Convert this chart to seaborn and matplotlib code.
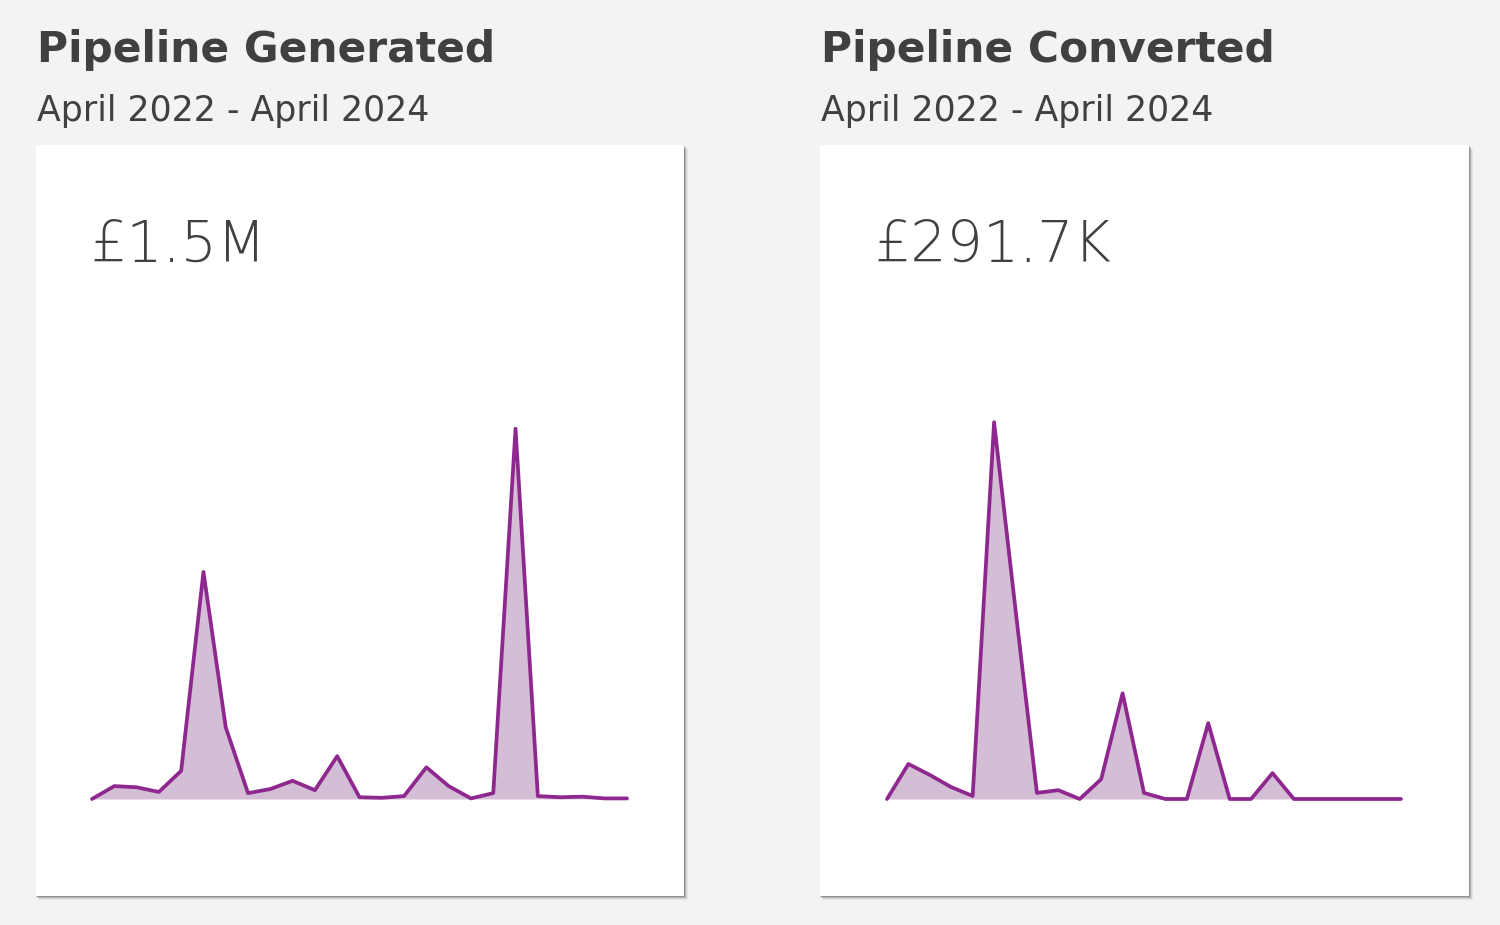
import matplotlib
matplotlib.use("Agg")
import matplotlib.pyplot as plt
import matplotlib.patches as mpatches
import numpy as np
import pandas as pd
import seaborn as sns

# Monthly pipeline values, April 2022 - April 2024 (in £k)
months = pd.date_range("2022-04-01", "2024-04-01", freq="MS")
generated_k = [0, 22, 20, 12, 48, 387, 122, 10, 17, 31, 15, 73, 3,
               2, 5, 54, 22, 1, 10, 631, 5, 3, 4, 1, 1]
converted_k = [0, 11.5, 7.9, 3.9, 1.0, 123.7, 62.2, 2.0, 2.9, 0, 6.5, 34.7, 2.0,
               0, 0, 24.9, 0, 0, 8.5, 0, 0, 0, 0, 0, 0]

titles = ["Pipeline Generated", "Pipeline Converted"]
subtitle = "April 2022 - April 2024"
totals = ["£1.5M", "£291.7K"]

df = pd.DataFrame({"month": np.arange(len(months)),
                   "generated": generated_k,
                   "converted": converted_k})

sns.set_theme(style="white")
plt.rcParams["font.family"] = ["DejaVu Sans"]

W, H = 1500, 925
fig = plt.figure(figsize=(15, 9.25), dpi=100)
fig.patch.set_facecolor("#f3f3f3")

line_col = "#8e288f"
fill_col = "#d4bed5"
text_col = "#404040"


def px(x0, y0, x1, y1):
    # pixel box (top-left origin) -> figure fraction rect
    return [x0 / W, 1 - y1 / H, (x1 - x0) / W, (y1 - y0) / H]


cards = [(36, 145, 684, 896), (820, 145, 1469, 896)]
plots = [(92, 400, 627, 799), (887, 400, 1401, 799)]
ytops = [680, 131]
cols = ["generated", "converted"]

for i in range(2):
    cx0, cy0, cx1, cy1 = cards[i]
    # soft shadow
    for off, a in [(4, 0.05), (3, 0.08), (2, 0.14), (1, 0.2)]:
        r = px(cx0 + off - 1, cy0 + off, cx1 + off, cy1 + off)
        fig.patches.append(mpatches.Rectangle((r[0], r[1]), r[2], r[3],
                           transform=fig.transFigure, facecolor="#000000",
                           alpha=a, edgecolor="none", zorder=-2))
    r = px(cx0, cy0, cx1, cy1)
    fig.patches.append(mpatches.Rectangle((r[0], r[1]), r[2], r[3],
                       transform=fig.transFigure, facecolor="white",
                       edgecolor="none", zorder=-1))

    fig.text((cx0 + 1) / W, 1 - 62 / H, titles[i], fontsize=30.5,
             fontweight="bold", color=text_col, va="baseline")
    fig.text((cx0 + 1) / W, 1 - 121 / H, subtitle, fontsize=25,
             color=text_col, va="baseline")
    fig.text((cx0 + 54) / W, 1 - 262 / H, totals[i], fontsize=41,
             fontweight="light", color=text_col, va="baseline")

    ax = fig.add_axes(px(*plots[i]))
    ax.set_zorder(2)
    ax.set_facecolor("none")
    ax.fill_between(df["month"], df[cols[i]], 0, color=fill_col, lw=0)
    sns.lineplot(data=df, x="month", y=cols[i], ax=ax, color=line_col,
                 lw=2.7, clip_on=False)
    ax.set_xlim(0, len(months) - 1)
    ax.set_ylim(0, ytops[i])
    ax.axis("off")

fig.savefig("out.png", dpi=100, facecolor=fig.get_facecolor())
